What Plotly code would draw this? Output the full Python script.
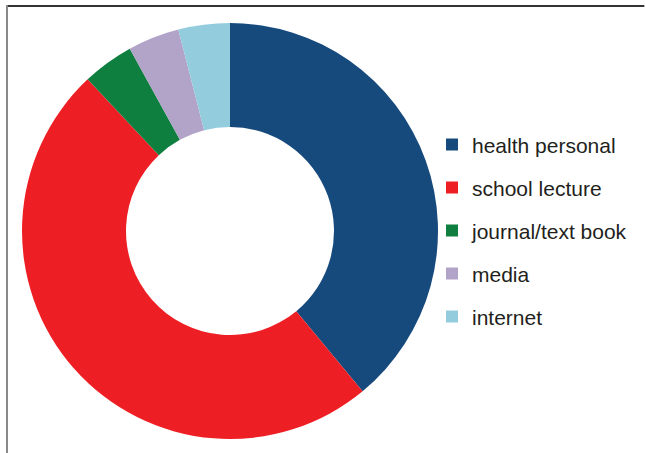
import plotly.graph_objects as go

labels = ["health personal", "school lecture", "journal/text book", "media", "internet"]
values = [39, 49, 4, 4, 4]
colors = ["#164a7d", "#ee1f24", "#0e7f3f", "#b2a3c8", "#93cddd"]

W, H = 645, 453

fig = go.Figure(go.Pie(
    labels=[f'<span style="font-size:21px;baseline-shift:4px">{l}</span>' for l in labels],
    values=values,
    hole=0.5,
    sort=False,
    direction="clockwise",
    rotation=0,
    textinfo="none",
    marker=dict(colors=colors, line=dict(width=0)),
    domain=dict(x=[22 / W, 438 / W], y=[14 / H, 430 / H]),
))

fig.update_layout(
    width=W, height=H,
    margin=dict(l=0, r=0, t=0, b=0),
    paper_bgcolor="white",
    font=dict(family="Liberation Sans, Arial, sans-serif", color="#231f20"),
    showlegend=True,
    legend=dict(
        x=432 / W, xanchor="left",
        y=1 - 118 / H, yanchor="top",
        font=dict(size=30.77, color="#231f20"),
        bgcolor="rgba(0,0,0,0)",
    ),
    shapes=[
        dict(type="line", xref="paper", yref="paper",
             x0=7 / W, x1=0.999, y0=1 - 6 / H, y1=1 - 6 / H,
             line=dict(color="#333333", width=2)),
        dict(type="line", xref="paper", yref="paper",
             x0=7 / W, x1=7 / W, y0=0, y1=1 - 5 / H,
             line=dict(color="#8a8a8a", width=2)),
    ],
)

fig.write_html("out.html", config={"displayModeBar": False})
